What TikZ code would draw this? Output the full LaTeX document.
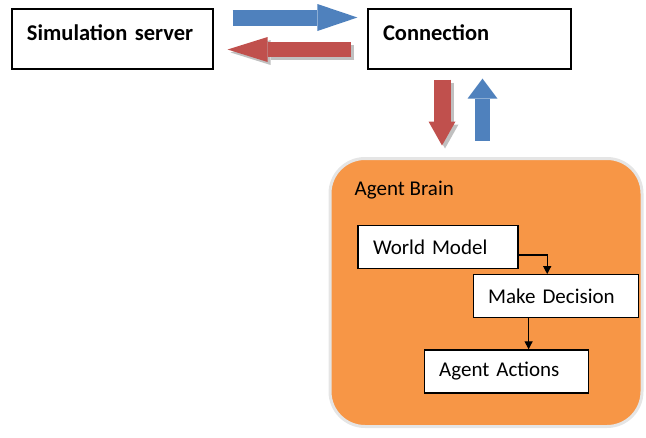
\documentclass[tikz,border=0pt]{standalone}
\usepackage{fontspec}
\setmainfont{Carlito}
\usetikzlibrary{positioning,arrows.meta}

\definecolor{officeblue}{HTML}{4F81BD}
\definecolor{officered}{HTML}{C0504D}
\definecolor{officeorange}{HTML}{F79646}

\begin{document}
\begin{tikzpicture}[
    x=1pt, y=-1pt,
    topbox/.style={draw, line width=1.2pt, fill=white, align=left, inner xsep=15pt, inner ysep=8pt, minimum height=60pt, text height=23pt, text depth=21pt, font=\fontsize{22.5}{27}\selectfont\bfseries},
    innerbox/.style={draw, line width=1.2pt, fill=white, align=left, inner xsep=15pt, minimum height=43pt, font=\fontsize{21}{25}\selectfont},
    brainbox/.style={draw=gray!20, line width=3pt, fill=officeorange, rounded corners=35pt, minimum width=312pt, minimum height=268pt},
    fatblue/.style={officeblue, line width=#1},
    fatred/.style={officered, line width=#1},
    shadowed/.style={black!45, opacity=.55, transform canvas={xshift=3pt, yshift=-3pt}},
    flow/.style={line width=1.2pt, -{Triangle[length=8pt, width=8pt]}}
]
\useasboundingbox (0,0) rectangle (646,437);

% top row
\node[topbox, text width=171pt] (sim) at (112.5,39) {Simulation server};
\node[topbox, text width=173pt] (conn) at (469.5,39) {Connection};

% agent brain and its parts
\node[brainbox] (brain) at (486,292.5) {};
\node[anchor=west, inner sep=0pt, font=\fontsize{21}{25}\selectfont] (brainlbl) at ([xshift=26pt,yshift=-33pt]brain.north west) {Agent Brain};
\node[innerbox, text width=130pt] (wm) at (438,247) {World Model};
\node[innerbox, text width=135pt, below right=5pt and -46pt of wm] (md) {Make Decision};
\node[innerbox, text width=134pt, below=31pt of md, xshift=-49.5pt] (aa) {Agent Actions};

% server <-> connection
\draw[fatblue=16pt, -{Triangle[length=40pt, width=27pt, line width=0pt]}]
    ([xshift=19pt,yshift=21.5pt]sim.east) -- ([xshift=-10pt,yshift=21.5pt]conn.west);
\draw[fatred=15pt, shadowed, -{Triangle[length=40pt, width=25pt, line width=0pt]}]
    ([xshift=-16pt,yshift=-10.5pt]conn.west) -- ([xshift=14pt,yshift=-10.5pt]sim.east);
\draw[fatred=15pt, -{Triangle[length=40pt, width=25pt, line width=0pt]}]
    ([xshift=-16pt,yshift=-10.5pt]conn.west) -- ([xshift=14pt,yshift=-10.5pt]sim.east);

% connection <-> brain
\draw[fatred=17pt, shadowed, shorten >=11.5pt, -{Triangle[length=24pt, width=27pt, line width=0pt]}]
    ([xshift=-27.5pt,yshift=-10pt]conn.south) -- ([xshift=-27.5pt]conn.south |- brain.north);
\draw[fatred=17pt, shorten >=11.5pt, -{Triangle[length=24pt, width=27pt, line width=0pt]}]
    ([xshift=-27.5pt,yshift=-10pt]conn.south) -- ([xshift=-27.5pt]conn.south |- brain.north);
\draw[fatblue=15pt, shorten <=16.5pt, -{Triangle[length=20pt, width=30pt, line width=0pt]}]
    ([xshift=13pt]conn.south |- brain.north) -- ([xshift=13pt,yshift=-9pt]conn.south);

% inside the brain
\draw[flow] ([yshift=-8pt]wm.east) -| ([xshift=-8.5pt]md.north);
\draw[flow] ([xshift=56pt]md.south west) -- ([xshift=56pt]md.south west |- aa.north);
\end{tikzpicture}
\end{document}
